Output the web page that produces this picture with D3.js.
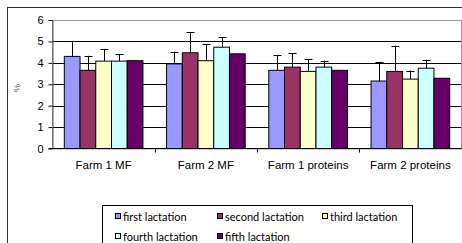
<!DOCTYPE html>
<html>
<head>
<meta charset="utf-8">
<script src="https://cdn.jsdelivr.net/npm/d3@7"></script>
<style>
  body { margin: 0; background: #fff; }
  svg { display: block; }
</style>
</head>
<body>
<svg id="chart" width="462" height="243"></svg>
<script>
// data
const categories = ["Farm 1 MF", "Farm 2 MF", "Farm 1 proteins", "Farm 2 proteins"];
const seriesNames = ["first lactation", "second lactation", "third lactation", "fourth lactation", "fifth lactation"];
const seriesColors = ["#9999ff", "#993366", "#ffffcc", "#ccffff", "#660066"];
const first = [4.3, 3.95, 3.65, 3.15];
const second = [3.65, 4.47, 3.8, 3.6];
const third = [4.08, 4.1, 3.6, 3.24];
const fourth = [4.08, 4.73, 3.8, 3.75];
const fifth = [4.1, 4.42, 3.65, 3.28];
const firstErr = [0.7, 0.57, 0.7, 0.88];
const secondErr = [0.68, 0.95, 0.65, 1.2];
const thirdErr = [0.57, 0.78, 0.56, 0.4];
const fourthErr = [0.32, 0.47, 0.3, 0.4];
const fifthErr = [0, 0, 0, 0];
const yTicks = [0, 1, 2, 3, 4, 5, 6];

const values = [first, second, third, fourth, fifth];
const errors = [firstErr, secondErr, thirdErr, fourthErr, fifthErr];

const svg = d3.select("#chart");

// outer chart border
svg.append("rect")
  .attr("x", 7.5).attr("y", 7.5)
  .attr("width", 470).attr("height", 260)
  .attr("fill", "#fff").attr("stroke", "#333").attr("stroke-width", 1);

const plotL = 52.5, plotT = 20, plotR = 461.5, plotB = 148.5;

const x = d3.scaleBand().domain(categories).range([plotL, plotR]);
const xs = d3.scaleBand().domain(d3.range(5)).range([0, x.bandwidth()]).paddingOuter(0.75).paddingInner(0);
const y = d3.scaleLinear().domain([0, 6]).range([plotB, plotT]);

// gridlines
svg.append("g")
  .selectAll("line")
  .data(yTicks.filter(d => d > 0 && d < 6))
  .enter().append("line")
  .attr("x1", plotL).attr("x2", plotR)
  .attr("y1", d => Math.round(y(d)) + 0.5).attr("y2", d => Math.round(y(d)) + 0.5)
  .attr("stroke", "#000");

// plot area border
svg.append("rect")
  .attr("x", plotL).attr("y", plotT + 0.5)
  .attr("width", plotR - plotL).attr("height", plotB - plotT)
  .attr("fill", "none").attr("stroke", "#999");

// bars
const groups = svg.append("g")
  .selectAll("g")
  .data(values)
  .enter().append("g");

groups.selectAll("rect")
  .data((d, i) => d.map((v, j) => ({ v: v, s: i, c: categories[j] })))
  .enter().append("rect")
  .attr("x", d => x(d.c) + xs(d.s))
  .attr("y", d => y(d.v))
  .attr("width", xs.bandwidth())
  .attr("height", d => y(0) - y(d.v))
  .attr("fill", d => seriesColors[d.s])
  .attr("stroke", "#000").attr("stroke-width", 1);

// error bars (plus only)
const errs = [];
values.forEach((arr, i) => arr.forEach((v, j) => {
  if (errors[i][j] > 0) errs.push({ v: v, e: errors[i][j], s: i, c: categories[j] });
}));
const eb = svg.append("g").attr("stroke", "#000").attr("stroke-width", 1);
errs.forEach(d => {
  const cx = Math.round(x(d.c) + xs(d.s) + xs.bandwidth() / 2) + 0.5;
  eb.append("line").attr("x1", cx).attr("x2", cx).attr("y1", y(d.v)).attr("y2", y(d.v + d.e));
  eb.append("line").attr("x1", cx - 4).attr("x2", cx + 4).attr("y1", Math.round(y(d.v + d.e)) + 0.5).attr("y2", Math.round(y(d.v + d.e)) + 0.5);
});

// y axis
const yAxis = svg.append("g")
  .attr("transform", "translate(" + plotL + ",0)")
  .call(d3.axisLeft(y).tickValues(yTicks).tickFormat(d3.format("d")).tickSize(4).tickSizeOuter(0));
yAxis.select(".domain").attr("stroke", "#555");
yAxis.selectAll(".tick line").attr("stroke", "#000");
yAxis.selectAll("text")
  .attr("font-family", "Liberation Sans, Arial, sans-serif")
  .attr("font-size", 11).attr("fill", "#000").attr("x", -9);

// x axis
const xAxis = svg.append("g")
  .attr("transform", "translate(0," + plotB + ")");
xAxis.append("line").attr("x1", plotL - 4).attr("x2", plotR).attr("stroke", "#000");
xAxis.selectAll("line.t")
  .data(categories.slice(1).concat(["end"]))
  .enter().append("line").attr("class", "t")
  .attr("x1", (d, i) => Math.round(plotL + x.bandwidth() * (i + 1)) + 0.5)
  .attr("x2", (d, i) => Math.round(plotL + x.bandwidth() * (i + 1)) + 0.5)
  .attr("y1", 0).attr("y2", 4).attr("stroke", "#000");
xAxis.selectAll("text")
  .data(categories)
  .enter().append("text")
  .attr("x", d => x(d) + x.bandwidth() / 2)
  .attr("y", 20)
  .attr("text-anchor", "middle")
  .attr("font-family", "Liberation Sans, Arial, sans-serif")
  .attr("font-size", 11.5)
  .text(d => d);

// y label
svg.append("text")
  .attr("transform", "translate(20,88) rotate(-90)")
  .attr("text-anchor", "middle")
  .attr("font-family", "Liberation Sans, Arial, sans-serif")
  .attr("font-size", 9).attr("fill", "#555")
  .text("%");

// legend
const lg = svg.append("g");
lg.append("rect")
  .attr("x", 102.5).attr("y", 205.5)
  .attr("width", 310).attr("height", 60)
  .attr("fill", "#fff").attr("stroke", "#000");
const legX = [115, 217, 322];
const legY = [217, 237];
seriesNames.forEach((name, i) => {
  const lx = legX[i % 3], ly = legY[Math.floor(i / 3)];
  lg.append("rect")
    .attr("x", lx + 0.5).attr("y", ly - 3.5)
    .attr("width", 5).attr("height", 5)
    .attr("fill", seriesColors[i]).attr("stroke", "#000");
  lg.append("text")
    .attr("x", lx + 8).attr("y", ly + 4)
    .attr("font-family", "Lato, Open Sans, sans-serif")
    .attr("font-size", 11)
    .text(name);
});
</script>
</body>
</html>
